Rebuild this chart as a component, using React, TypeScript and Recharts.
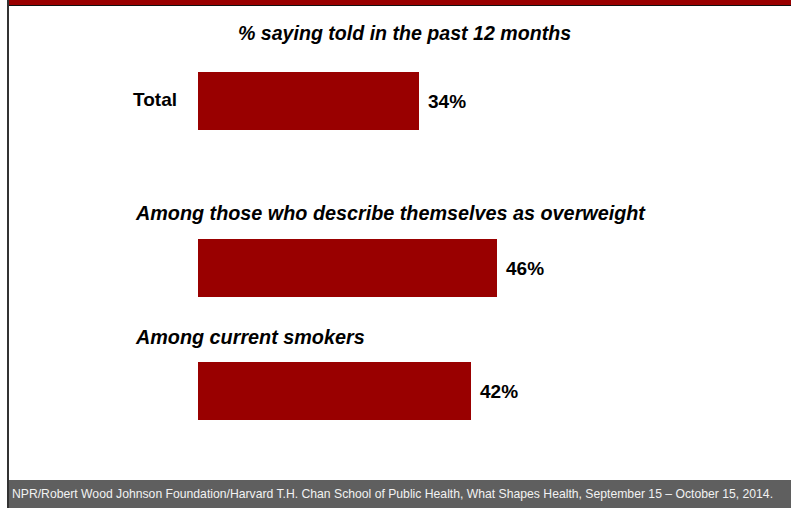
import { BarChart, Bar, XAxis, YAxis, LabelList } from "recharts";

const TITLE = "% saying told in the past 12 months";
const GROUPS = ["Total", "Among those who describe themselves as overweight", "Among current smokers"];
const VALUES = [34, 46, 42];
const SOURCE = "NPR/Robert Wood Johnson Foundation/Harvard T.H. Chan School of Public Health, What Shapes Health, September 15 \u2013 October 15, 2014.";

const RED = "#990000";
const FONT = "Arial, 'Liberation Sans', Helvetica, sans-serif";

// bar tops and heading centres, px from the top of the slide
const BAR_TOPS = [72, 239, 362];
const HEAD_Y = [0, 214, 338];

export default function App() {
  const rows = GROUPS.map((g, i) => ({ name: g, value: VALUES[i] }));

  return (
    <div style={{ position: "fixed", top: 0, left: 0, width: 791, height: 508, background: "#fff", fontFamily: FONT, overflow: "hidden" }}>
      <style>{"html,body{margin:0;overflow:hidden;background:#fff;}"}</style>
      <div style={{ position: "absolute", left: 9, top: 0, width: 782, height: 5, background: RED, borderBottom: "1px solid #111" }} />
      <div style={{ position: "absolute", left: 7, top: 0, width: 2, height: 508, background: "#333" }} />

      <div style={{ position: "absolute", left: 0, width: 791, top: 22, textAlign: "center", fontSize: 19.6, fontWeight: "bold", fontStyle: "italic", paddingLeft: 18, boxSizing: "border-box" }}>
        {TITLE}
      </div>

      {rows.map((r, i) => (
        <div key={r.name}>
          {i === 0 ? (
            <div style={{ position: "absolute", right: 791 - 177, top: BAR_TOPS[i] + 17, fontSize: 19, fontWeight: "bold" }}>{r.name}</div>
          ) : (
            <div style={{ position: "absolute", left: 136, top: HEAD_Y[i] - 12, fontSize: 19.8, fontWeight: "bold", fontStyle: "italic", whiteSpace: "nowrap" }}>{r.name}</div>
          )}
          <div style={{ position: "absolute", left: 0, top: BAR_TOPS[i] - 20 }}>
            <BarChart width={783} height={98} data={[r]} layout="vertical" margin={{ top: 10, right: 0, bottom: 10, left: 198 }} barCategoryGap={0}>
              <XAxis type="number" domain={[0, 90]} hide />
              <YAxis type="category" dataKey="name" hide width={0} />
              <Bar dataKey="value" fill={RED} barSize={58} isAnimationActive={false}>
                <LabelList dataKey="value" position="right" offset={9} formatter={(v: number) => `${v}%`} style={{ fontSize: 19, fontWeight: "bold", fill: "#000", fontFamily: FONT }} />
              </Bar>
            </BarChart>
          </div>
        </div>
      ))}

      <div style={{ position: "absolute", left: 9, top: 480, width: 782, height: 28, background: "#5f5f5f", color: "#f2f2f2", fontSize: 12.2, lineHeight: "28px", paddingLeft: 3, boxSizing: "border-box", whiteSpace: "nowrap" }}>
        {SOURCE}
      </div>
    </div>
  );
}
